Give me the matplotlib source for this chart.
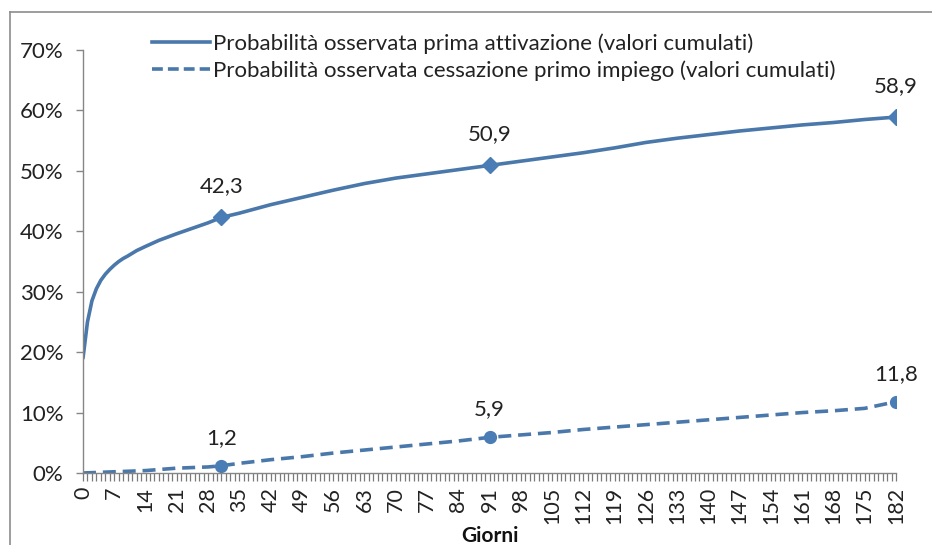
import matplotlib
matplotlib.use("Agg")
import matplotlib.pyplot as plt
from matplotlib.lines import Line2D
from matplotlib.ticker import FixedLocator, MultipleLocator, FuncFormatter

plt.rcParams['font.family'] = ['Lato', 'DejaVu Sans']

# ---- data ----
days_att = [0, 1, 2, 3, 4, 5, 6, 7, 8, 9, 10, 12, 14, 17, 21, 28, 31, 35, 42, 49, 56,
            63, 70, 77, 84, 91, 98, 105, 112, 119, 126, 133, 140, 147, 154, 161, 168,
            175, 182]
prob_att = [19.0, 25.0, 28.5, 30.5, 31.9, 32.9, 33.7, 34.4, 35.0, 35.5, 35.9, 36.8,
            37.5, 38.5, 39.6, 41.4, 42.3, 43.0, 44.4, 45.6, 46.8, 47.9, 48.8, 49.5,
            50.2, 50.9, 51.6, 52.3, 53.0, 53.8, 54.7, 55.4, 56.0, 56.6, 57.1, 57.6,
            58.0, 58.5, 58.9]

days_ces = [0, 7, 14, 21, 28, 31, 35, 42, 49, 56, 63, 70, 77, 84, 91, 98, 105, 112,
            119, 126, 133, 140, 147, 154, 161, 168, 175, 182]
prob_ces = [0.0, 0.2, 0.4, 0.8, 1.0, 1.2, 1.6, 2.2, 2.7, 3.3, 3.8, 4.3, 4.8, 5.3,
            5.9, 6.3, 6.7, 7.2, 7.6, 8.0, 8.4, 8.8, 9.2, 9.6, 10.0, 10.3, 10.7, 11.8]

marked_days = [31, 91, 182]
marked_att = [42.3, 50.9, 58.9]
marked_ces = [1.2, 5.9, 11.8]

label_att = "Probabilità osservata prima attivazione (valori cumulati)"
label_ces = "Probabilità osservata cessazione primo impiego (valori cumulati)"
xlabel = "Giorni"
tick_days = list(range(0, 183, 7))

# ---- figure ----
W, H = 932, 545
fig = plt.figure(figsize=(W / 100, H / 100), dpi=100)
ax = fig.add_axes([83 / W, 1 - 473 / H, (896 - 83) / W, (473 - 50) / H])

col = '#4a78aa'
ax.plot(days_att, prob_att, color=col, lw=2.6, solid_capstyle='round')
ax.plot(days_ces, prob_ces, color=col, lw=2.6, dashes=(3.6, 1.9))
ax.plot(marked_days, marked_att, ls='none', marker='D', ms=8, color='#4a7db5')
ax.plot(marked_days, marked_ces, ls='none', marker='o', ms=8.5, color='#4a7db5')

for d, v in zip(marked_days, marked_att):
    ax.annotate(f"{v:.1f}".replace('.', ','), (d, v), xytext=(0, 15),
                textcoords='offset points', ha='center', va='bottom',
                fontsize=16, color='#222222')
for d, v in zip(marked_days, marked_ces):
    ax.annotate(f"{v:.1f}".replace('.', ','), (d, v), xytext=(0, 13),
                textcoords='offset points', ha='center', va='bottom',
                fontsize=16, color='#222222')

ax.set_xlim(0, 182)
ax.set_ylim(0, 70)
ax.xaxis.set_major_locator(FixedLocator(tick_days))
ax.xaxis.set_minor_locator(MultipleLocator(1))
ax.set_xticklabels([str(d) for d in tick_days], rotation=90, fontsize=15.5, color='#222222')
ax.yaxis.set_major_locator(MultipleLocator(10))
ax.yaxis.set_major_formatter(FuncFormatter(lambda v, p: f"{int(round(v))}%"))
ax.tick_params(axis='y', labelsize=16, labelcolor='#222222', direction='out',
               length=5, width=1, color='#868686', pad=9)
ax.tick_params(axis='x', which='both', direction='out', length=6, width=0.9,
               color='#7a7a7a', pad=4)
for s in ['top', 'right']:
    ax.spines[s].set_visible(False)
for s in ['left', 'bottom']:
    ax.spines[s].set_color('#868686')
    ax.spines[s].set_linewidth(1)

ax.set_xlabel(xlabel, fontsize=15, fontweight='bold', color='#111111', labelpad=1)

handles = [Line2D([], [], color=col, lw=2.6),
           Line2D([], [], color=col, lw=2.6, dashes=(3.0, 1.4))]
fig.legend(handles, [label_att, label_ces], loc='upper left',
           bbox_to_anchor=(152 / W, 1 - 33 / H), frameon=False, fontsize=16,
           handlelength=2.6, handletextpad=0.15, labelspacing=0.3,
           borderpad=0, borderaxespad=0, labelcolor='#222222')

# outer frame (left and top edges visible)
fig.add_artist(Line2D([9.5 / W, 9.5 / W], [0, 1 - 12 / H], color='#8c8c8c', lw=1.2,
                      transform=fig.transFigure))
fig.add_artist(Line2D([9.5 / W, 1], [1 - 12 / H, 1 - 12 / H], color='#8c8c8c', lw=1.2,
                      transform=fig.transFigure))

fig.savefig("out.png", dpi=100)
